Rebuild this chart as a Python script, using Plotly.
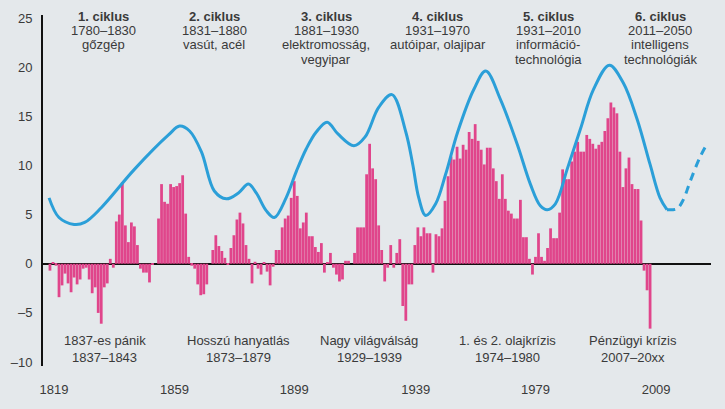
import plotly.graph_objects as go

# Bar values (one per period, index 0..199)
bar_values = [
    -0.7, 0.1, -0.2, -3.4, -2.2, -1.0, -2.0, -2.9, -1.4, -2.1,
    -1.6, -0.5, -0.4, -1.6, -3.0, -2.4, -5.0, -6.1, -2.4, -2.0,
    0.5, -0.4, 4.3, 5.0, 8.3, 3.9, 2.2, 4.2, 3.8, 1.9,
    -0.5, -0.9, -0.9, -1.9, -0.1, 0.0, 4.6, 8.1, 6.3, 6.1,
    8.1, 7.8, 7.9, 8.2, 9.0, 5.1, 0.7, -0.2, -0.5, -2.1,
    -3.2, -3.1, -2.1, 0.0, 1.4, 2.9, 1.8, 1.3, 0.6, -0.1,
    1.6, 2.9, 4.5, 5.2, 4.1, 1.9, 0.5, -2.0, 0.2, -0.5,
    -1.1, 0.1, -0.8, -2.2, -0.3, 1.4, 1.4, 3.7, 4.6, 4.9,
    6.7, 8.4, 6.9, 3.6, 4.2, 5.2, 2.8, 2.8, 1.7, 1.2,
    2.1, -0.9, 0.1, 1.1, -0.4, -1.1, -1.8, -1.6, 0.3, 0.3,
    0.0, 1.1, 3.7, 3.7, 3.7, 9.1, 12.2, 9.7, 8.6, 3.9,
    1.4, -1.8, -0.4, 1.9, -0.4, 1.1, 2.5, -4.3, -5.8, -2.1,
    -2.1, 1.9, 3.7, 2.8, 3.7, 3.1, 3.1, -0.9, 3.0, 2.8,
    3.6, 6.4, 8.9, 10.9, 10.6, 11.9, 10.7, 12.1, 11.6, 13.4,
    12.7, 14.2, 12.5, 11.6, 10.1, 11.8, 11.8, 9.7, 8.4, 6.6,
    9.1, 6.6, 5.4, 5.1, 4.6, 4.6, 6.5, 2.7, 2.7, 0.5,
    -1.1, 0.7, 3.1, 0.7, 0.3, 1.6, 3.6, 2.6, 2.6, 5.2,
    9.6, 8.6, 8.6, 10.4, 11.4, 12.4, 11.4, 11.4, 13.1, 12.7,
    12.2, 11.7, 12.1, 12.4, 13.5, 14.8, 16.4, 15.9, 15.3, 11.4,
    7.8, 9.7, 10.8, 8.1, 7.6, 7.6, 4.4, -0.7, -2.7, -6.6,
]
bar_index = list(range(len(bar_values)))

# Long wave curve (solid part)
wave_x = [-0.3, 3, 8, 11.5, 17, 28, 39.3, 43, 46.3, 50.2, 54.5, 58.5, 62.5, 65.8,
          68.4, 71.7, 74.4, 78.3, 81.7, 85, 88.3, 91.9, 95.5, 100.8, 104.5,
          109.0, 113.4, 118, 120.3, 122.3, 124.6, 127.9, 131.2, 135.2, 140.5, 144.5, 149.4,
          155, 159.3, 162.6, 164.9, 167.6, 171.6, 175.9, 180.2, 185.5, 190.1, 194.7,
          199, 202.3, 204.6]
wave_y = [6.7, 4.7, 4.0, 4.2, 5.7, 9.6, 13.1, 14.0, 13.5, 11.4, 7.4, 6.6, 7.2, 8.1,
          7.2, 5.4, 4.7, 6.7, 9.4, 11.7, 13.4, 14.4, 13.2, 12.0, 12.9,
          15.9, 17.2, 13.4, 10.1, 6.7, 4.9, 6.1, 9.1, 13.4, 17.7, 19.6, 16.7,
          12.1, 8.1, 5.9, 5.5, 6.1, 9.7, 13.7, 17.7, 20.2, 18.4, 14.7,
          10.1, 6.7, 5.5]
# Forecast (dashed)
fc_x = [204.6, 207.9, 210, 212.2, 215.5, 217.9]
fc_y = [5.5, 5.6, 6.5, 8.3, 10.8, 12.2]

tick_pos = [1.3, 41.3, 81.0, 121.3, 161.0, 201.0]
tick_text = ["1819", "1859", "1899", "1939", "1979", "2009"]
y_ticks = [-10, -5, 0, 5, 10, 15, 20, 25]
y_text = ["–10", "–5", "0", "5", "10", "15", "20", "25"]

cycles = [
    ("1. ciklus", "1780–1830", "gőzgép", ""),
    ("2. ciklus", "1831–1880", "vasút, acél", ""),
    ("3. ciklus", "1881–1930", "elektromosság,", "vegyipar"),
    ("4. ciklus", "1931–1970", "autóipar, olajipar", ""),
    ("5. ciklus", "1931–2010", "információ-", "technológia"),
    ("6. ciklus", "2011–2050", "intelligens", "technológiák"),
]
cycle_pos = [17.9, 54.5, 91.6, 128.6, 165.3, 202.3]

crises = [
    ("1837-es pánik", "1837–1843"),
    ("Hosszú hanyatlás", "1873–1879"),
    ("Nagy világválság", "1929–1939"),
    ("1. és 2. olajkrízis", "1974–1980"),
    ("Pénzügyi krízis", "2007–20xx"),
]
crisis_pos = [18.2, 62.5, 105.8, 151.7, 193.4]

BAR = "#e0458b"
LINE = "#2b9fd8"
TXT = "#3a3a3a"
BG = "#e4e8eb"
FONT = "Liberation Sans, Arial, sans-serif"

fig = go.Figure()
fig.add_trace(go.Bar(x=bar_index, y=bar_values, marker=dict(color=BAR, line=dict(width=0)),
                     showlegend=False, hoverinfo="skip"))
fig.add_trace(go.Scatter(x=wave_x, y=wave_y, mode="lines",
                         line=dict(color=LINE, width=3, shape="spline", smoothing=1.0),
                         showlegend=False))
fig.add_trace(go.Scatter(x=fc_x, y=fc_y, mode="lines",
                         line=dict(color=LINE, width=3, shape="spline", smoothing=1.0,
                                   dash="8px,6px"),
                         showlegend=False))

annotations = []
line_y = [25.16, 23.72, 22.26, 20.75]
for (t1, t2, t3, t4), xp in zip(cycles, cycle_pos):
    for i, t in enumerate([t1, t2, t3, t4]):
        if not t:
            continue
        annotations.append(dict(x=xp, y=line_y[i], xref="x", yref="y", showarrow=False,
                                text=f"<b>{t}</b>" if i == 0 else t,
                                font=dict(size=13, color=TXT, family=FONT),
                                xanchor="center", yanchor="middle", borderpad=0))
for (t1, t2), xp in zip(crises, crisis_pos):
    annotations.append(dict(x=xp, y=-7.79, xref="x", yref="y", showarrow=False, text=t1,
                            font=dict(size=13, color=TXT, family=FONT),
                            xanchor="center", yanchor="middle", borderpad=0))
    annotations.append(dict(x=xp, y=-9.56, xref="x", yref="y", showarrow=False, text=t2,
                            font=dict(size=13, color=TXT, family=FONT),
                            xanchor="center", yanchor="middle", borderpad=0))

fig.update_layout(
    width=725, height=409,
    margin=dict(l=41, r=14, t=11, b=43),
    paper_bgcolor=BG, plot_bgcolor=BG,
    bargap=0.08,
    font=dict(family=FONT, size=13, color=TXT),
    annotations=annotations,
    xaxis=dict(range=[-2.31, 219.2], tickvals=tick_pos, ticktext=tick_text,
               showgrid=False, zeroline=False, showline=False,
               ticks="outside", ticklen=11, tickcolor="rgba(0,0,0,0)",
               tickfont=dict(size=13, color=TXT)),
    yaxis=dict(range=[-10.4, 25.3], tickvals=y_ticks, ticktext=y_text,
               showgrid=False, zeroline=True, zerolinecolor="#111111", zerolinewidth=2,
               showline=True, linecolor="#111111", linewidth=2,
               ticks="outside", ticklen=6, tickcolor="rgba(0,0,0,0)",
               tickfont=dict(size=13, color=TXT)),
)

fig.write_html("out.html", config={"displayModeBar": False},
               post_script="document.body.style.margin='0';")
